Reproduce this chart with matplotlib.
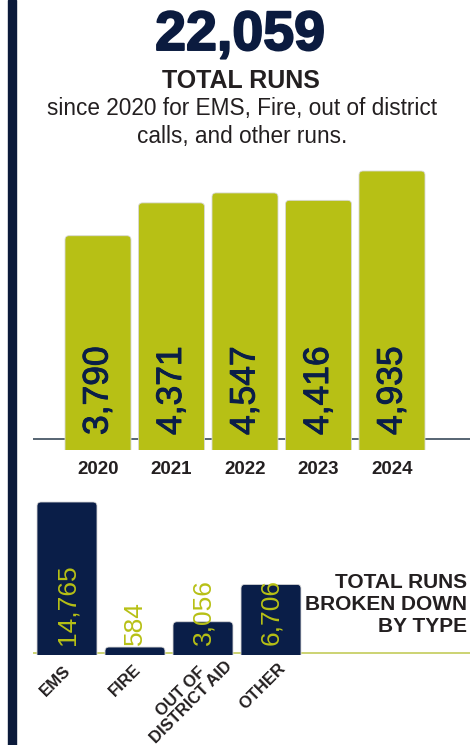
import numpy as np
import matplotlib
matplotlib.use("Agg")
import matplotlib.pyplot as plt
from matplotlib.patches import Rectangle, FancyBboxPatch
import matplotlib.patheffects as pe

# data
years = ["2020", "2021", "2022", "2023", "2024"]
year_runs = [3790, 4371, 4547, 4416, 4935]
types = ["EMS", "FIRE", "OUT OF\nDISTRICT AID", "OTHER"]
type_runs = [14765, 584, 3056, 6706]
total_runs = "22,059"

GREEN = "#b7c015"
NAVY = "#0a1e48"
DARK = "#231f20"
EDGE = "#0b1a3a"

W, H = 473, 745
fig = plt.figure(figsize=(W / 100, H / 100), dpi=100)
plt.rcParams['font.family'] = ['Liberation Sans', 'DejaVu Sans']


def px_axes(x0, y0, x1, y1):
    # pixel box (top-left origin) -> figure axes
    return fig.add_axes([x0 / W, 1 - y1 / H, (x1 - x0) / W, (y1 - y0) / H])


def round_bars(ax, bars, color, r_px, px_per_unit_x, px_per_unit_y):
    # swap the plain rectangles for rounded ones of the same size
    for b in bars:
        x, w, h = b.get_x(), b.get_width(), b.get_height()
        b.set_visible(False)
        pad = r_px / px_per_unit_y
        p = FancyBboxPatch((x, -pad * 2), w, h + pad * 2,
                           boxstyle="round,pad=0,rounding_size=%f" % (r_px / px_per_unit_x),
                           mutation_aspect=px_per_unit_x / px_per_unit_y,
                           fc=color, ec="#d8d8d8", lw=0.6, zorder=3)
        ax.add_patch(p)


# left accent stripe
fig.patches.append(Rectangle((8 / W, 0), 8 / W, 1, transform=fig.transFigure,
                             color=EDGE, zorder=0))

# headline
fig.text(240 / W, 1 - 36 / H, total_runs, ha="center", va="center", fontsize=40,
         fontweight="bold", color="#0b1b3f",
         path_effects=[pe.withStroke(linewidth=1.4, foreground="#0b1b3f")])
fig.text(241 / W, 1 - 81 / H, "TOTAL RUNS", ha="center", va="center", fontsize=18,
         fontweight="bold", color=DARK)
fig.text(242 / W, 1 - 109 / H, "since 2020 for EMS, Fire, out of district", ha="center",
         va="center", fontsize=16.3, color=DARK)
fig.text(242 / W, 1 - 137 / H, "calls, and other runs.", ha="center",
         va="center", fontsize=16.3, color=DARK)

# top chart: runs per year
ax = px_axes(33, 160, 470, 450)
sy = 4935 / 279.0          # runs per pixel
ax.set_ylim(0, 290 * sy)
ax.set_xlim((33 - 98) / 73.5, (470 - 98) / 73.5)
x = np.arange(len(years))
bars = ax.bar(x, year_runs, width=66 / 73.5, color=GREEN)
round_bars(ax, bars, GREEN, 4, 73.5, 1 / sy)
ax.axhline(11 * sy, color="#3a4a5a", lw=1.2, zorder=1)
for i, v in enumerate(year_runs):
    ax.text(i, 15 * sy, f"{v:,}", rotation=90, ha="center", va="bottom",
            fontsize=25.5, color=NAVY, zorder=4,
            path_effects=[pe.withStroke(linewidth=0.7, foreground=NAVY)])
ax.set_xticks(x, years)
ax.tick_params(axis="x", length=0, pad=8, labelsize=13.5, labelcolor=DARK)
for t in ax.get_xticklabels():
    t.set_fontweight("bold")
ax.set_yticks([])
for s in ax.spines.values():
    s.set_visible(False)
ax.patch.set_alpha(0)

# bottom chart: runs by type
bx = px_axes(33, 480, 470, 655)
sy2 = 14765 / 151.0
base = 2
bx.set_ylim(0, 175 * sy2)
bx.set_xlim((33 - 67) / 68, (470 - 67) / 68)
x2 = np.arange(len(types))
bars2 = bx.bar(x2, type_runs, bottom=base * sy2, width=60 / 68, color=NAVY)
for b in bars2:
    b.set_y(0)
    b.set_height(b.get_height() + base * sy2)
round_bars(bx, bars2, NAVY, 4, 68, 1 / sy2)
bx.axhline(base * sy2, color="#c4cc5a", lw=1.2, zorder=1)
for i, v in enumerate(type_runs):
    bx.text(i, 10 * sy2, f"{v:,}", rotation=90, ha="center", va="bottom",
            fontsize=19, color=GREEN, zorder=4)
bx.set_xticks([])
bx.set_yticks([])
for s in bx.spines.values():
    s.set_visible(False)
bx.patch.set_alpha(0)

# category labels, rotated, centred a little left of and below each bar
label_drop = [28, 27, 44, 33]      # px below the baseline, per label
label_shift = [-12, -10, -17, -8]  # px sideways, per label
for i, lab in enumerate(types):
    bx.text(i + label_shift[i] / 68, (base - label_drop[i]) * sy2, lab, rotation=45,
            rotation_mode="anchor", ha="center", va="center",
            multialignment="center", fontsize=12, fontweight="bold", color=DARK,
            linespacing=1.0, clip_on=False)

fig.text(467 / W, 1 - 605 / H, "TOTAL RUNS\nBROKEN DOWN\nBY TYPE", ha="right",
         va="center", multialignment="right", fontsize=15, fontweight="bold",
         color=DARK, linespacing=1.2)

fig.savefig("out.png", dpi=100)
